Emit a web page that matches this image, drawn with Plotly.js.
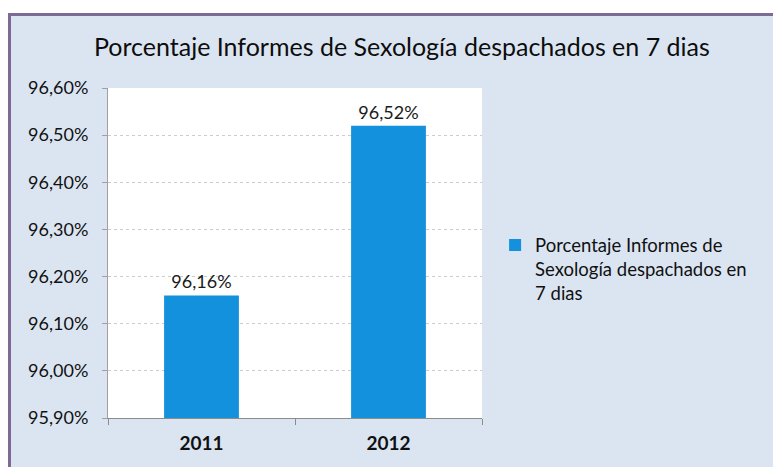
<!DOCTYPE html>
<html>
<head>
<meta charset="utf-8">
<script src="https://cdn.plot.ly/plotly-3.0.1.min.js"></script>
<style>
html,body{margin:0;padding:0;background:#ffffff;width:773px;height:467px;overflow:hidden;}
#frame{position:absolute;left:8px;top:13px;width:762px;height:451px;border-left:3px solid #7e6b95;border-top:3px solid #7e6b95;background:#dbe5f1;}
#chart{width:762px;height:451px;}
</style>
</head>
<body>
<div id="frame"><div id="chart"></div></div>
<script>
const categories = ['2011', '2012'];
const values = [96.16, 96.52];
const valueLabels = ['96,16%', '96,52%'];
const tickVals = [95.9, 96.0, 96.1, 96.2, 96.3, 96.4, 96.5, 96.6];
const tickText = ['95,90%', '96,00%', '96,10%', '96,20%', '96,30%', '96,40%', '96,50%', '96,60%'];
const seriesName = 'Porcentaje Informes de<br>Sexología despachados en<br>7 dias';
const chartTitle = 'Porcentaje Informes de Sexología despachados en 7 dias';
const axisBase = 95.9;

const FONT = 'Lato, "Open Sans", sans-serif';

const trace = {
  type: 'bar',
  x: categories,
  y: values.map(v => v - axisBase),
  base: axisBase,
  name: seriesName,
  text: valueLabels,
  textposition: 'outside',
  textfont: {family: FONT, size: 18, color: '#1a1a1a'},
  cliponaxis: false,
  marker: {color: '#1491dc', line: {width: 0}},
  hoverinfo: 'skip',
  showlegend: true
};

const layout = {
  width: 762,
  height: 451,
  paper_bgcolor: '#dbe5f1',
  plot_bgcolor: '#ffffff',
  margin: {l: 97, r: 291, t: 72, b: 49},
  title: {
    text: chartTitle,
    font: {family: FONT, size: 25, color: '#0d0d0d'},
    x: 0.513, xanchor: 'center', y: 0.931, yanchor: 'middle'
  },
  bargap: 0.6,
  xaxis: {
    type: 'category',
    showgrid: false,
    showline: true,
    linecolor: '#8c8c8c',
    linewidth: 1,
    ticks: 'outside',
    tickson: 'boundaries',
    ticklen: 6,
    tickcolor: '#8c8c8c',
    ticklabelstandoff: 8,
    tickfont: {family: FONT, size: 19, color: '#111111', weight: 'bold'},
    fixedrange: true
  },
  yaxis: {
    range: [95.9, 96.6],
    tickvals: tickVals,
    ticktext: tickText,
    showgrid: true,
    gridcolor: '#c8cdd4',
    griddash: 'dot',
    gridwidth: 1,
    showline: true,
    linecolor: '#a0a0a0',
    linewidth: 1,
    ticks: 'outside',
    ticklen: 5,
    tickcolor: '#a0a0a0',
    ticklabelstandoff: 10,
    tickfont: {family: FONT, size: 18, color: '#111111'},
    zeroline: false,
    fixedrange: true
  },
  showlegend: true,
  legend: {
    x: 1.035, xanchor: 'left',
    y: 0.45, yanchor: 'middle',
    valign: 'top',
    bgcolor: 'rgba(0,0,0,0)',
    font: {family: FONT, size: 18.5, color: '#111111'},
    itemwidth: 30
  }
};

Plotly.newPlot('chart', [trace], layout, {displayModeBar: false, staticPlot: true});
</script>
</body>
</html>
